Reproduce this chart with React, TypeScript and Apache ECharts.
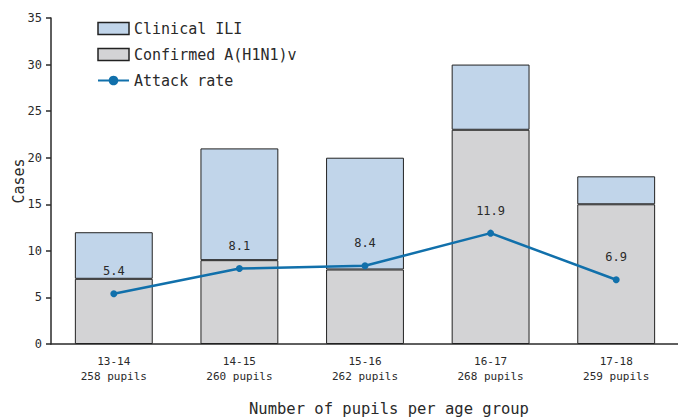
import React, { useEffect, useRef } from "react";
import * as echarts from "echarts";

const ageGroups = ["13-14", "14-15", "15-16", "16-17", "17-18"];
const pupils = [258, 260, 262, 268, 259];
const confirmed = [7, 9, 8, 23, 15];
const clinicalILI = [5, 12, 12, 7, 3];
const attackRate = [5.4, 8.1, 8.4, 11.9, 6.9];
const yTicks = { min: 0, max: 35, interval: 5 };

const FONT = "DejaVu Sans Mono";
const INK = "#2a2a2a";

export default function App() {
  const ref = useRef<HTMLDivElement>(null);
  useEffect(() => {
    if (!ref.current) return;
    const chart = echarts.init(ref.current, undefined, { renderer: "svg" });
    const categories = ageGroups.map((g, i) => `${g}\n${pupils[i]} pupils`);
    chart.setOption({
      animation: false,
      textStyle: { fontFamily: FONT, color: INK },
      grid: { left: 51, right: -1, top: 18, bottom: 74, containLabel: false, outerBoundsMode: "none" },
      legend: {
        orient: "vertical",
        left: 92,
        top: 16,
        itemWidth: 31,
        itemHeight: 12,
        itemGap: 11,
        textStyle: { fontFamily: FONT, fontSize: 15, color: INK },
        data: [
          { name: "Clinical ILI", icon: "rect", itemStyle: { borderWidth: 1.5 } },
          { name: "Confirmed A(H1N1)v", icon: "rect", itemStyle: { borderWidth: 1.5 } },
          { name: "Attack rate" },
        ],
      },
      xAxis: {
        type: "category",
        data: categories,
        axisLine: { lineStyle: { color: INK, width: 1.5 } },
        axisTick: { show: false },
        axisLabel: { fontFamily: FONT, fontSize: 11, color: INK, lineHeight: 15, margin: 10 },
      },
      yAxis: {
        type: "value",
        min: yTicks.min,
        max: yTicks.max,
        interval: yTicks.interval,
        name: "Cases",
        nameLocation: "middle",
        nameGap: 25,
        nameMoveOverlap: false,
        nameTextStyle: { fontFamily: FONT, fontSize: 15, color: INK },
        axisLine: { show: true, lineStyle: { color: INK, width: 1.5 } },
        axisTick: { show: true, length: 5, lineStyle: { color: INK, width: 1.5 } },
        splitLine: { show: false },
        axisLabel: { fontFamily: FONT, fontSize: 12, color: INK, margin: 9 },
      },
      series: [
        {
          name: "Confirmed A(H1N1)v",
          type: "bar",
          stack: "cases",
          data: confirmed,
          barWidth: "62%",
          itemStyle: { color: "#d3d3d5", borderColor: "#222", borderWidth: 1 },
        },
        {
          name: "Clinical ILI",
          type: "bar",
          stack: "cases",
          data: clinicalILI,
          barWidth: "62%",
          itemStyle: { color: "#c1d5ea", borderColor: "#222", borderWidth: 1 },
        },
        {
          name: "Attack rate",
          type: "line",
          data: attackRate,
          symbol: "circle",
          symbolSize: 7,
          lineStyle: { color: "#1170ab", width: 2.5 },
          itemStyle: { color: "#1170ab" },
          label: {
            show: true,
            position: "top",
            distance: 13,
            fontFamily: FONT,
            fontSize: 12,
            color: INK,
            formatter: (p: any) => p.value.toFixed(1),
          },
          z: 5,
        },
      ],
      graphic: [
        {
          type: "text",
          left: 249,
          top: 401,
          style: {
            text: "Number of pupils per age group",
            fontFamily: FONT,
            fontSize: 15.5,
            fill: INK,
          },
        },
      ],
    });
    return () => chart.dispose();
  }, []);
  return <div ref={ref} style={{ width: 678, height: 418, position: "absolute", left: 0, top: 0 }} />;
}
